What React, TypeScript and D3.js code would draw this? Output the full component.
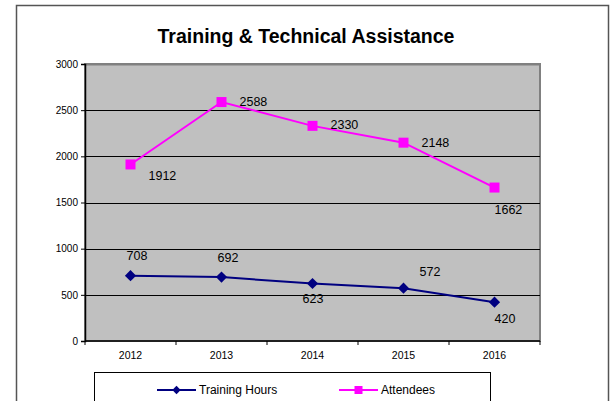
import { useEffect, useRef } from 'react';
import * as d3 from 'd3';

const years = ['2012', '2013', '2014', '2015', '2016'];
const trainingHours = [708, 692, 623, 572, 420];
const attendees = [1912, 2588, 2330, 2148, 1662];
const yTicks = [0, 500, 1000, 1500, 2000, 2500, 3000];

// label nudges (px) relative to each point, as placed in the original
const hoursLabelOffsets = [[-4, -16], [-4, -15], [-10, 20], [16, -12], [0, 21]];
const attendeeLabelOffsets = [[18, 16], [18, 4], [18, 3], [18, 4], [0, 26]];

const App = () => {
  const ref = useRef<SVGSVGElement>(null);

  useEffect(() => {
    const svg = d3.select(ref.current);
    svg.selectAll('*').remove();

    const H = 401;
    const plot = { left: 85, right: 540, top: 64, bottom: 341 };
    const font = 'Liberation Sans, Arial, sans-serif';

    // outer chart border
    svg.append('rect')
      .attr('x', 16.5).attr('y', 5.5)
      .attr('width', 592).attr('height', H + 20)
      .attr('fill', 'white')
      .attr('stroke', '#555').attr('stroke-width', 1.5);

    // title
    svg.append('text')
      .attr('x', 306).attr('y', 43)
      .attr('text-anchor', 'middle')
      .style('font-family', font)
      .style('font-size', '19.5px')
      .style('font-weight', 'bold')
      .text('Training & Technical Assistance');

    const x = d3.scaleBand().domain(years).range([plot.left, plot.right]);
    const y = d3.scaleLinear().domain([0, 3000]).range([plot.bottom, plot.top]);
    const cx = (d: string) => (x(d) as number) + x.bandwidth() / 2;

    // plot area
    svg.append('rect')
      .attr('x', plot.left).attr('y', plot.top)
      .attr('width', plot.right - plot.left).attr('height', plot.bottom - plot.top)
      .attr('fill', '#c0c0c0')
      .attr('stroke', '#808080').attr('stroke-width', 2);

    // gridlines
    svg.append('g')
      .selectAll('line')
      .data(yTicks.slice(1))
      .enter()
      .append('line')
      .attr('x1', plot.left).attr('x2', plot.right)
      .attr('y1', d => Math.round(y(d)) + 0.5).attr('y2', d => Math.round(y(d)) + 0.5)
      .attr('stroke', d => (d === 3000 ? '#808080' : '#000'))
      .attr('stroke-width', d => (d === 3000 ? 2 : 1));

    // y axis
    svg.append('g')
      .attr('transform', `translate(${plot.left},0)`)
      .call(d3.axisLeft(y).tickValues(yTicks).tickFormat(d3.format('d')).tickSize(4).tickPadding(3))
      .call(g => g.select('.domain').attr('stroke', '#000').attr('stroke-width', 1.5))
      .call(g => g.selectAll('.tick line').attr('stroke', '#000'))
      .call(g => g.selectAll('text')
        .style('font-family', font)
        .style('font-size', '10px')
        .attr('fill', '#000'));

    // x axis
    const xAxis = svg.append('g')
      .attr('transform', `translate(0,${plot.bottom})`);
    xAxis.append('line')
      .attr('x1', plot.left).attr('x2', plot.right)
      .attr('stroke', '#000').attr('stroke-width', 1.5);
    const bounds = years.map(d => x(d) as number).concat([plot.right]);
    xAxis.selectAll('.xt')
      .data(bounds)
      .enter()
      .append('line')
      .attr('x1', d => d).attr('x2', d => d)
      .attr('y1', 0).attr('y2', 4)
      .attr('stroke', '#000');
    xAxis.selectAll('.xl')
      .data(years)
      .enter()
      .append('text')
      .attr('x', d => cx(d)).attr('y', 18)
      .attr('text-anchor', 'middle')
      .style('font-family', font)
      .style('font-size', '10.5px')
      .text(d => d);

    const line = d3.line<number>()
      .x((_, i) => cx(years[i]))
      .y(d => y(d));

    // attendees
    svg.append('path')
      .datum(attendees)
      .attr('d', line)
      .attr('fill', 'none')
      .attr('stroke', '#ff00ff')
      .attr('stroke-width', 2);
    svg.selectAll('.sq')
      .data(attendees)
      .enter()
      .append('rect')
      .attr('x', (_, i) => cx(years[i]) - 5)
      .attr('y', d => y(d) - 5)
      .attr('width', 10).attr('height', 10)
      .attr('fill', '#ff00ff');

    // training hours
    svg.append('path')
      .datum(trainingHours)
      .attr('d', line)
      .attr('fill', 'none')
      .attr('stroke', '#000080')
      .attr('stroke-width', 2);
    const diamond = d3.symbol().type(d3.symbolDiamond2).size(80);
    svg.selectAll('.dm')
      .data(trainingHours)
      .enter()
      .append('path')
      .attr('d', diamond)
      .attr('transform', (d, i) => `translate(${cx(years[i])},${y(d)})`)
      .attr('fill', '#000080');

    // data labels
    const labels = (vals: number[], offs: number[][]) => {
      svg.append('g')
        .selectAll('text')
        .data(vals)
        .enter()
        .append('text')
        .attr('x', (_, i) => cx(years[i]) + offs[i][0])
        .attr('y', (d, i) => y(d) + offs[i][1])
        .style('font-family', font)
        .style('font-size', '12.5px')
        .attr('fill', '#000')
        .text(d => d);
    };
    labels(attendees, attendeeLabelOffsets);
    labels(trainingHours, hoursLabelOffsets);

    // legend
    const legend = svg.append('g');
    legend.append('rect')
      .attr('x', 94.5).attr('y', 372.5)
      .attr('width', 396).attr('height', 60)
      .attr('fill', 'white')
      .attr('stroke', '#000').attr('stroke-width', 1);

    const items = [
      { name: 'Training Hours', color: '#000080', x0: 157, shape: 'diamond' },
      { name: 'Attendees', color: '#ff00ff', x0: 339, shape: 'square' },
    ];
    items.forEach(it => {
      const g = legend.append('g').attr('transform', `translate(${it.x0},390)`);
      g.append('line')
        .attr('x1', 0).attr('x2', 39)
        .attr('stroke', it.color).attr('stroke-width', 2);
      if (it.shape === 'diamond') {
        g.append('path')
          .attr('d', d3.symbol().type(d3.symbolDiamond2).size(45))
          .attr('transform', 'translate(19.5,0)')
          .attr('fill', it.color);
      } else {
        g.append('rect')
          .attr('x', 15.5).attr('y', -4).attr('width', 8).attr('height', 8)
          .attr('fill', it.color);
      }
      g.append('text')
        .attr('x', 42).attr('y', 4)
        .style('font-family', font)
        .style('font-size', '12px')
        .text(it.name);
    });
  }, []);

  return (
    <svg
      ref={ref}
      width={612}
      height={401}
      style={{ position: 'absolute', left: 0, top: 0, background: 'white' }}
    />
  );
};

export default App;
